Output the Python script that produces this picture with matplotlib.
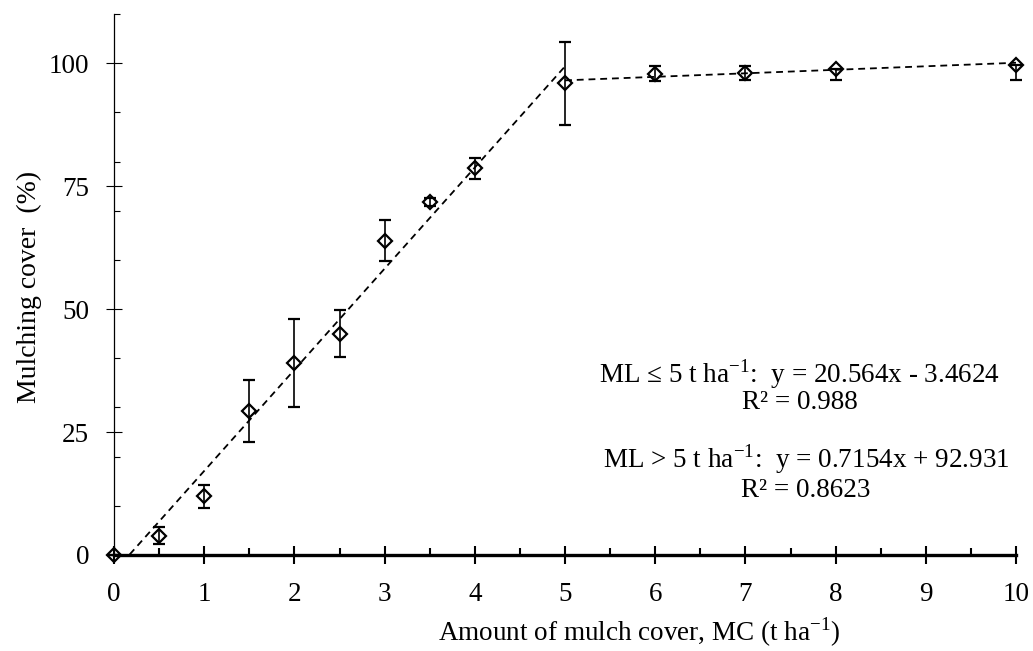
import numpy as np
import matplotlib
matplotlib.use('Agg')
import matplotlib.pyplot as plt
from matplotlib.ticker import MultipleLocator

plt.rcParams['font.family'] = ['Liberation Serif', 'DejaVu Serif']
plt.rcParams['mathtext.fontset'] = 'custom'
plt.rcParams['mathtext.rm'] = 'Liberation Serif'

# data
ml = [0, 0.5, 1, 1.5, 2, 2.5, 3, 3.5, 4, 5, 6, 7, 8, 10]
cover = [0, 3.9, 11.9, 29.2, 39.0, 45.0, 63.9, 71.8, 78.6, 95.9, 97.9, 98.0, 98.9, 99.6]
err_low = [0, 1.7, 2.4, 6.3, 8.9, 4.8, 4.2, 0.8, 2.1, 8.5, 1.6, 1.5, 2.4, 3.1]
err_up = [0, 1.7, 2.4, 6.3, 8.9, 4.8, 4.2, 0.8, 2.1, 8.5, 1.6, 1.5, 0, 0]

# piecewise linear fits
fit1 = (20.564, -3.4624)
fit2 = (0.7154, 92.931)

fig = plt.figure(figsize=(10.33, 6.51), dpi=100)
ax = fig.add_axes([0.1104, 0.1475, 0.8732, 0.831])

x1 = np.array([0, 5])
x2 = np.array([5, 10])
ax.plot(x1, fit1[0] * x1 + fit1[1], color='black', lw=1.3,
        linestyle=(0, (3.8, 2.7)), zorder=2)
ax.plot(x2, fit2[0] * x2 + fit2[1], color='black', lw=1.3,
        linestyle=(0, (3.8, 2.7)), zorder=2)

ax.errorbar(ml, cover, yerr=[err_low, err_up], fmt='D', ms=6.8, mfc='none',
            mec='black', mew=1.6, ecolor='black', elinewidth=1.2,
            capsize=4.3, capthick=1.2, zorder=3, clip_on=False)

ax.set_xlim(0, 10)
ax.set_ylim(0, 110)

for s in ['top', 'right']:
    ax.spines[s].set_visible(False)
ax.spines['bottom'].set_linewidth(2.4)
ax.spines['left'].set_linewidth(0.9)

ax.xaxis.set_major_locator(MultipleLocator(1))
ax.xaxis.set_minor_locator(MultipleLocator(0.5))
ax.yaxis.set_major_locator(MultipleLocator(25))
ax.yaxis.set_minor_locator(MultipleLocator(10))

ax.tick_params(axis='x', which='major', direction='inout', length=12.5,
               width=1.5, labelsize=19.5, pad=13)
ax.tick_params(axis='x', which='minor', direction='in', length=5, width=1.5)
ax.tick_params(axis='y', which='major', direction='inout', length=12,
               width=0.8, labelsize=19.5, pad=12)
ax.tick_params(axis='y', which='minor', direction='in', length=4.5, width=0.8)

# axis titles (x title sits right of centre in the original)
fig.text(438 / 1033, 1 - 632 / 651,
         'Amount of mulch cover, MC (t ha$^{\\mathregular{-1}}$)',
         ha='left', va='center', fontsize=19.5)
fig.text(29 / 1033, 1 - 287 / 651, 'Mulching cover  (%)', rotation=90,
         ha='center', va='center', fontsize=20)

fs = 19.5
ax.text(7.6, 36.8, 'ML ≤ 5 t ha$^{\\mathregular{-1}}$:  y = 20.564x - 3.4624',
        ha='center', va='center', fontsize=fs)
ax.text(7.6, 31.1, 'R² = 0.988', ha='center', va='center', fontsize=fs)
ax.text(7.67, 19.5, 'ML > 5 t ha$^{\\mathregular{-1}}$:  y = 0.7154x + 92.931',
        ha='center', va='center', fontsize=fs)
ax.text(7.67, 13.2, 'R² = 0.8623', ha='center', va='center', fontsize=fs)

plt.savefig('out.png', dpi=100)
